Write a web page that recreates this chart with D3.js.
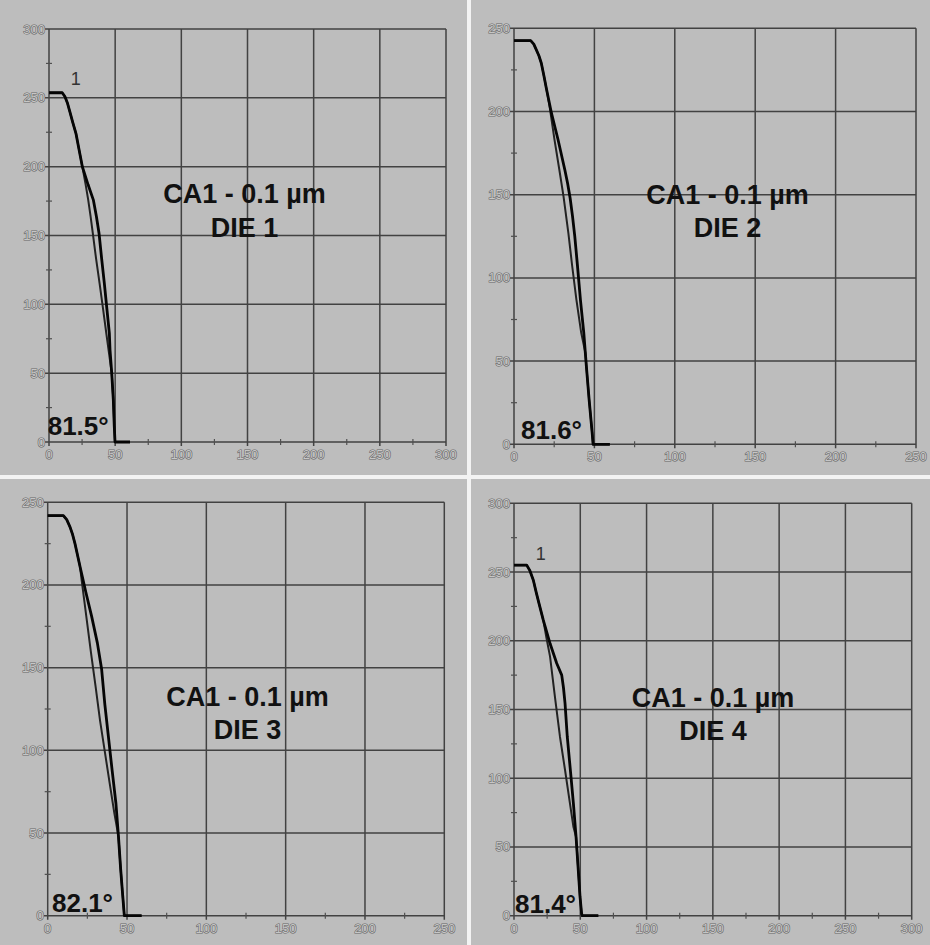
<!DOCTYPE html>
<html>
<head>
<meta charset="utf-8">
<script src="https://cdn.jsdelivr.net/npm/d3@7"></script>
<style>
  html, body { margin: 0; padding: 0; background: #f2f2f2; }
  svg { display: block; }
  .tick-label { font-family: "Liberation Sans", Arial, sans-serif; font-size: 13px;
                fill: #c6c6c6; stroke: #666666; stroke-width: 1.1px; paint-order: stroke; }
  .title { font-family: "Liberation Sans", Arial, sans-serif; font-weight: bold; fill: #111111; }
</style>
</head>
<body>
<script>
// ---- data -------------------------------------------------------------
const sampleLabel = "CA1 - 0.1 µm";
const dieNames = ["DIE 1", "DIE 2", "DIE 3", "DIE 4"];
const sidewallAngles = ["81.5°", "81.6°", "82.1°", "81.4°"];
const axisMax = [300, 250, 250, 300];
const ticks300 = [0, 50, 100, 150, 200, 250, 300];
const ticks250 = [0, 50, 100, 150, 200, 250];
const minor300 = [25, 75, 125, 175, 225, 275];
const minor250 = [25, 75, 125, 175, 225];
const traceLabel = "1";
const traceLabelAt = [16.5, 259];

// profile traces: [lateral position, height]
const die1Outer = [[0,253.7],[10,253.7],[12,251],[14,246],[16,239],[18,232],[20.4,224],[22.8,212],[25.2,200],[29.5,187],[33.5,175.9],[35.8,164],[37.8,151.7],[39.8,133],[41.8,115.4],[43.7,97],[45.6,79],[46.1,67],[47.4,50],[48.6,30.7],[49.3,12],[49.9,0],[61.2,0]];
const die1Inner = [[0,253.7],[10,253.7],[12,251],[14,246],[16,239],[18,232],[20.4,224],[22.8,212],[25.2,200],[27.5,188],[29.6,176],[31.4,164],[33.1,151.7],[35.6,133],[38.2,115.4],[40.8,97],[43.3,79],[45,67],[47.4,50],[48.6,30.7],[49.3,12],[49.9,0],[61.2,0]];

const die2Outer = [[0,242.6],[10.4,242.6],[12.3,240.5],[13.9,237],[15.5,233.5],[17,229],[18.6,221.5],[20.1,214],[23.3,199],[27.4,183],[31.6,165],[33.3,157],[34.9,148],[36.4,137],[37.8,125],[39.5,107],[41.3,87],[43.4,67],[45,47],[46.7,27],[48.6,7],[49.2,0],[59.6,0]];
const die2Inner = [[0,242.6],[10.4,242.6],[12.3,240.5],[13.9,237],[15.5,233.5],[17,229],[18.6,221.5],[20.1,214],[22,204],[25.2,183],[28.2,165],[30.8,149],[33.8,127],[36.2,107],[38.8,87],[41.8,67],[44.4,55],[45,47],[46.7,27],[48.6,7],[49.2,0],[59.6,0]];

const die3Outer = [[0,242],[9.9,242],[12,239.5],[14.1,235],[15.7,230.5],[17.2,225],[20.4,211],[24.2,195],[27.7,181],[31.3,165],[34,149],[36,128],[38.3,108],[40.6,88],[43,68],[44.6,48],[46,28],[47.3,12],[48.3,0],[59.2,0]];
const die3Inner = [[0,242],[9.9,242],[12,239.5],[14.1,235],[15.7,230.5],[17.2,225],[20.4,211],[21.4,203],[24.6,179],[27.3,159],[30.2,138.5],[33,118],[36.2,98],[39.4,78],[42,62],[44.6,48],[46,28],[47.3,12],[48.3,0],[59.2,0]];

const die4Outer = [[0,255],[9.6,255],[12,251],[14.6,244],[16.8,235],[18.9,227],[22.1,215],[27.2,198],[32.2,183.6],[36,175],[37.3,166],[38.5,154.5],[40.2,130],[43,101],[44.8,81.7],[46.8,57.5],[48.5,33],[49.8,13.8],[51,1.5],[51.5,0],[63.6,0]];
const die4Inner = [[0,255],[9.6,255],[12,251],[14.6,244],[16.8,235],[18.9,227],[22.1,215],[24.5,202],[27.2,188.5],[30.9,159],[34.7,130],[38.5,106],[42.2,81.7],[44.8,64.8],[46.8,57.5],[48.5,33],[49.8,13.8],[51,1.5],[51.5,0],[63.6,0]];

const outerTraces = [die1Outer, die2Outer, die3Outer, die4Outer];
const innerTraces = [die1Inner, die2Inner, die3Inner, die4Inner];
const showTraceLabel = [true, false, false, true];

// ---- layout -----------------------------------------------------------
const W = 930, H = 945;
const layout = [
  { box: [0, 0, 467, 475],     plot: [49, 29, 446, 442],          title: [244.5, 203, 237], angle: [47.7, 435] },
  { box: [471, 0, 459, 475],   plot: [514, 28.3, 916, 444.3],     title: [727.5, 204, 237], angle: [521, 439] },
  { box: [0, 479, 467, 466],   plot: [47.7, 502.3, 444.3, 915.7], title: [247.5, 706, 739], angle: [52, 911.7] },
  { box: [471, 479, 459, 466], plot: [514, 503.3, 911.7, 915.7],  title: [713, 707, 740],   angle: [515, 912.7] }
];

const svg = d3.select("body").append("svg").attr("width", W).attr("height", H);
svg.append("rect").attr("width", W).attr("height", H).attr("fill", "#f3f3f3");

layout.forEach((L, i) => {
  const [bx, by, bw, bh] = L.box;
  svg.append("rect").attr("x", bx).attr("y", by).attr("width", bw).attr("height", bh).attr("fill", "#bdbdbd");

  const [l, t, r, b] = L.plot;
  const max = axisMax[i];
  const x = d3.scaleLinear().domain([0, max]).range([l, r]);
  const y = d3.scaleLinear().domain([0, max]).range([b, t]);
  const major = max === 300 ? ticks300 : ticks250;
  const minor = max === 300 ? minor300 : minor250;
  const g = svg.append("g");

  // grid lines (extend a little past the axes as tick marks)
  g.selectAll(".vx").data(major).join("line")
    .attr("x1", d => x(d)).attr("x2", d => x(d))
    .attr("y1", t).attr("y2", b + 4)
    .attr("stroke", "#424242").attr("stroke-width", 1.5);
  g.selectAll(".hy").data(major).join("line")
    .attr("y1", d => y(d)).attr("y2", d => y(d))
    .attr("x1", l - 4).attr("x2", r)
    .attr("stroke", "#424242").attr("stroke-width", 1.5);

  // minor ticks across the axes
  g.selectAll(".mx").data(minor).join("line")
    .attr("x1", d => x(d)).attr("x2", d => x(d))
    .attr("y1", b - 3).attr("y2", b + 3)
    .attr("stroke", "#505050").attr("stroke-width", 1.2);
  g.selectAll(".my").data(minor).join("line")
    .attr("y1", d => y(d)).attr("y2", d => y(d))
    .attr("x1", l - 3).attr("x2", l + 3)
    .attr("stroke", "#505050").attr("stroke-width", 1.2);

  // tick labels
  g.selectAll(".lx").data(major).join("text").attr("class", "tick-label")
    .attr("x", d => x(d)).attr("y", b + 17).attr("text-anchor", "middle").text(d => d);
  g.selectAll(".ly").data(major).join("text").attr("class", "tick-label")
    .attr("x", l - 4).attr("y", d => y(d) + 4.5).attr("text-anchor", "end").text(d => d);

  // profile traces
  const line = d3.line().x(d => x(d[0])).y(d => y(d[1]));
  g.append("path").datum(innerTraces[i]).attr("d", line)
    .attr("fill", "none").attr("stroke", "#222222").attr("stroke-width", 2).attr("stroke-linejoin", "round");
  g.append("path").datum(outerTraces[i]).attr("d", line)
    .attr("fill", "none").attr("stroke", "#050505").attr("stroke-width", 2.8).attr("stroke-linejoin", "round");

  if (showTraceLabel[i]) {
    g.append("text").attr("x", x(traceLabelAt[0])).attr("y", y(traceLabelAt[1]))
      .attr("font-family", "Liberation Sans, Arial, sans-serif").attr("font-size", 18)
      .attr("fill", "#333333").text(traceLabel);
  }

  // labels
  g.append("text").attr("class", "title").attr("font-size", 27)
    .attr("x", L.title[0]).attr("y", L.title[1]).attr("text-anchor", "middle").text(sampleLabel);
  g.append("text").attr("class", "title").attr("font-size", 27)
    .attr("x", L.title[0]).attr("y", L.title[2]).attr("text-anchor", "middle").text(dieNames[i]);
  g.append("text").attr("class", "title").attr("font-size", 26)
    .attr("x", L.angle[0]).attr("y", L.angle[1]).text(sidewallAngles[i]);
});
</script>
</body>
</html>
